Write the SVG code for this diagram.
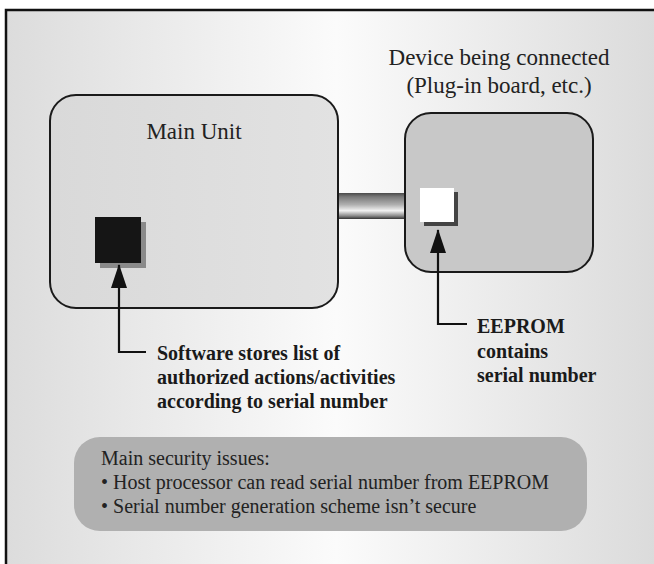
<svg xmlns="http://www.w3.org/2000/svg" width="654" height="564" viewBox="0 0 654 564">
<defs>
<linearGradient id="bg" x1="0" y1="0" x2="1" y2="0">
<stop offset="0" stop-color="#dcdcdc"/>
<stop offset="0.5" stop-color="#fbfbfb"/>
<stop offset="1" stop-color="#dadada"/>
</linearGradient>
<linearGradient id="mainFill" x1="0" y1="0" x2="1" y2="0">
<stop offset="0" stop-color="#d9d9d9"/>
<stop offset="1" stop-color="#e2e2e2"/>
</linearGradient>
<linearGradient id="bar" x1="0" y1="0" x2="0" y2="1">
<stop offset="0" stop-color="#4a4a4a"/>
<stop offset="0.15" stop-color="#7a7a7a"/>
<stop offset="0.45" stop-color="#b0b0b0"/>
<stop offset="0.68" stop-color="#f2f2f2"/>
<stop offset="0.88" stop-color="#8a8a8a"/>
<stop offset="1" stop-color="#333"/>
</linearGradient>
<marker id="arrow" viewBox="0 0 24 16" refX="23" refY="8" markerWidth="24" markerHeight="16" markerUnits="userSpaceOnUse" orient="auto">
<path d="M0,0 L24,8 L0,16 Z" fill="#111"/>
</marker>
</defs>
<style>
.box{stroke:#1a1a1a;stroke-width:2}
.title{font-family:"Liberation Serif","Times New Roman",serif;font-size:23px;fill:#222}
.label{font-family:"Liberation Serif","Times New Roman",serif;font-size:20px;font-weight:bold;fill:#1a1a1a}
.note{font-family:"Liberation Serif","Times New Roman",serif;font-size:20px;fill:#222}
.conn{fill:none;stroke:#111;stroke-width:2.2}
</style>
<rect x="0" y="0" width="654" height="564" fill="#ffffff"/>
<rect x="6" y="10" width="660" height="570" fill="url(#bg)" stroke="#111" stroke-width="2.5"/>

<g id="bus">
<rect x="338" y="193" width="68" height="26" fill="url(#bar)"/>
</g>

<g id="main-unit">
<rect class="box" x="50" y="95" width="288" height="213" rx="26" fill="url(#mainFill)"/>
<text class="title" x="194" y="139" text-anchor="middle">Main Unit</text>
<rect x="100" y="222" width="46" height="46" fill="#8a8a8a"/>
<rect x="95" y="217" width="46" height="46" fill="#151515"/>
</g>

<g id="device">
<text class="title" x="499" y="65" text-anchor="middle">Device being connected</text>
<text class="title" x="499" y="93" text-anchor="middle">(Plug-in board, etc.)</text>
<rect class="box" x="405" y="113" width="188" height="159" rx="26" fill="#c8c8c8"/>
<rect x="424" y="192" width="34" height="34" fill="#444"/>
<rect x="420" y="188" width="34" height="34" fill="#ffffff"/>
</g>

<g id="connectors">
<path class="conn" d="M146,352 H119 V265" marker-end="url(#arrow)"/>
<path class="conn" d="M467,324 H438 V230" marker-end="url(#arrow)"/>
</g>

<g id="software-label">
<text class="label" x="157" y="360">Software stores list of</text>
<text class="label" x="157" y="384">authorized actions/activities</text>
<text class="label" x="157" y="408">according to serial number</text>
</g>

<g id="eeprom-label">
<text class="label" x="477" y="333">EEPROM</text>
<text class="label" x="477" y="358">contains</text>
<text class="label" x="477" y="382">serial number</text>
</g>

<g id="issues">
<rect x="74" y="437" width="513" height="94" rx="26" fill="#b0b0b0"/>
<text class="note" x="101" y="465">Main security issues:</text>
<text class="note" x="101" y="489">• Host processor can read serial number from EEPROM</text>
<text class="note" x="101" y="513">• Serial number generation scheme isn’t secure</text>
</g>
</svg>
